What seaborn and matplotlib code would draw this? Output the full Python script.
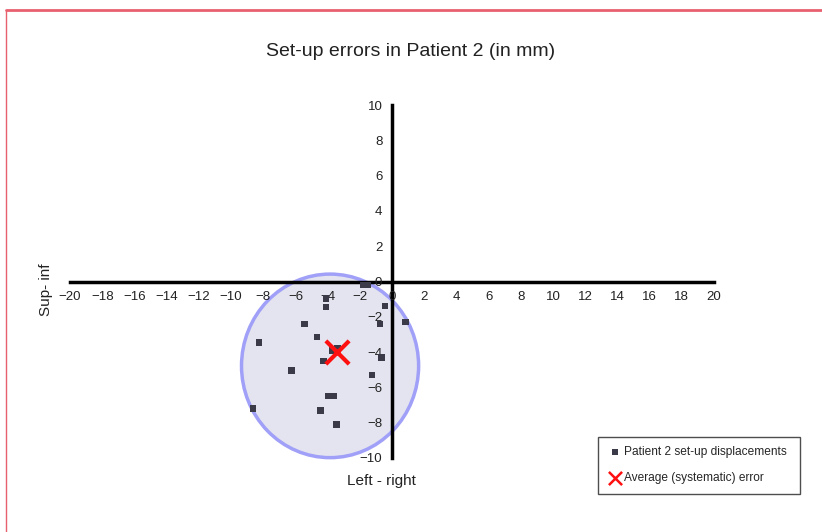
import matplotlib
matplotlib.use("Agg")
import matplotlib.pyplot as plt
import seaborn as sns
import pandas as pd
from matplotlib.patches import Ellipse
from matplotlib.lines import Line2D

# ---- data ----
disp_x = [-4.1, -4.1, -0.45, 0.85, -0.75, -5.45, -4.65, -8.25, -3.7, -3.4, -4.25,
          -0.65, -6.25, -1.25, -3.95, -3.65, -8.65, -4.45, -3.45, -1.8, -1.5]
disp_y = [-0.95, -1.45, -1.4, -2.3, -2.4, -2.4, -3.15, -3.45, -3.9, -3.8, -4.5,
          -4.3, -5.05, -5.3, -6.5, -6.5, -7.2, -7.3, -8.1, -0.2, -0.2]
mean_x = [-3.4]
mean_y = [-4.0]
circle_center = (-3.85, -4.78)
circle_w = 11.0
circle_h = 10.4
xticks = list(range(-20, 21, 2))
yticks = list(range(-10, 11, 2))

sns.set_style("white")
plt.rcParams['font.family'] = ['Liberation Sans', 'DejaVu Sans']

fig = plt.figure(figsize=(8.22, 5.32), dpi=100)
ax = fig.add_axes([0.0852, 0.1391, 0.7835, 0.6635])
ax.set_axisbelow(False)

ell = Ellipse(circle_center, circle_w, circle_h, facecolor='#e4e4f0',
              edgecolor='#a0a0f8', linewidth=2.5, zorder=1, clip_on=False)
ax.add_patch(ell)

df = pd.DataFrame({'x': disp_x, 'y': disp_y})
sns.scatterplot(data=df, x='x', y='y', marker='s', s=22, color='#3a3a48',
                edgecolor='none', ax=ax, zorder=3,
                label='Patient 2 set-up displacements')
dm = pd.DataFrame({'x': mean_x, 'y': mean_y})
sns.scatterplot(data=dm, x='x', y='y', marker='x', s=280, color='#ff1010',
                linewidth=3, ax=ax, zorder=4, label='Average (systematic) error')

ax.set_xlim(-20, 20)
ax.set_ylim(-10, 10)
for s in ['top', 'right']:
    ax.spines[s].set_visible(False)
ax.spines['left'].set_position(('data', 0))
ax.spines['bottom'].set_position(('data', 0))
for s in ['left', 'bottom']:
    ax.spines[s].set_linewidth(2.5)
    ax.spines[s].set_color('black')
    ax.spines[s].set_zorder(2)
ax.set_xticks(xticks)
ax.set_yticks(yticks)
ax.set_xticklabels([str(t).replace('-', '\u2212') for t in xticks])
ax.set_yticklabels([str(t).replace('-', '\u2212') for t in yticks])
ax.tick_params(axis='both', direction='out', length=5, width=2, color='black',
               labelsize=9.5, labelcolor='#222222', pad=2)
ax.set_xlabel('')
ax.set_ylabel('')
ax.patch.set_alpha(0)

fig.text(0.5, 1 - 52 / 532, 'Set-up errors in Patient 2 (in mm)', ha='center',
         va='center', fontsize=14, color='#222222')
fig.text(381 / 822, 1 - 481 / 532, 'Left - right', ha='center', va='center',
         fontsize=11, color='#222222')
fig.text(46 / 822, 1 - 290 / 532, 'Sup- inf', ha='center', va='center',
         rotation=90, fontsize=11, color='#222222')

leg = ax.legend(loc='lower left', bbox_to_anchor=(598 / 822, 38 / 532, 202 / 822, 64 / 532),
                bbox_transform=fig.transFigure, mode='expand', frameon=True,
                fancybox=False, edgecolor='#222222', fontsize=8.6, borderpad=0.8,
                borderaxespad=0, handletextpad=0.2, handlelength=1.2,
                labelspacing=1.2)
leg.get_frame().set_linewidth(1.0)
hs = leg.legend_handles
hs[0].set_sizes([18])
hs[1].set_sizes([90])
hs[1].set_linewidth(1.8)

red = '#e8606e'
fig.add_artist(Line2D([6 / 822, 1], [1 - 10 / 532, 1 - 10 / 532],
                      transform=fig.transFigure, color=red, linewidth=2))
fig.add_artist(Line2D([6 / 822, 6 / 822], [0, 1 - 10 / 532],
                      transform=fig.transFigure, color=red, linewidth=1))

fig.savefig('out.png', dpi=100, facecolor='white')
